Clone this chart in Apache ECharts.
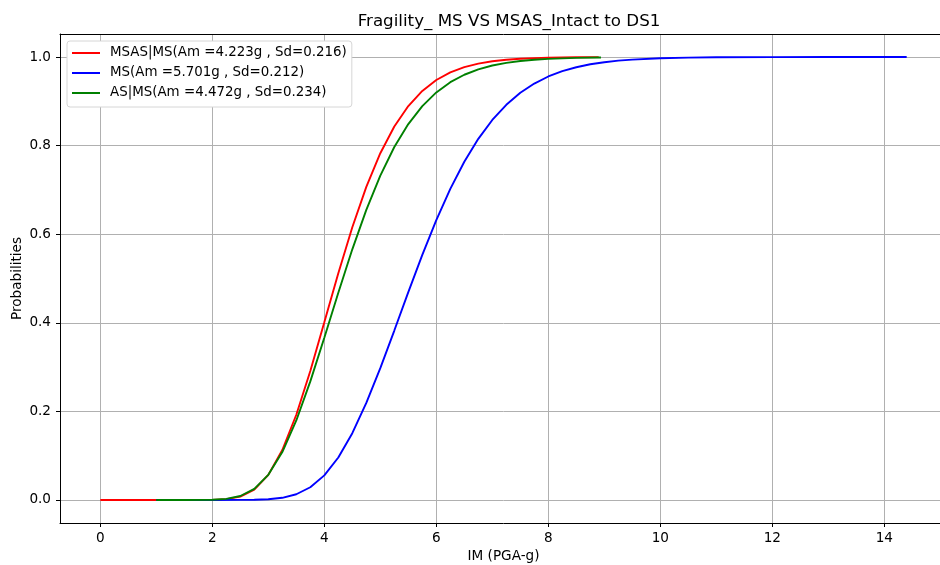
<!DOCTYPE html>
<html>
<head>
<meta charset="utf-8">
<script src="https://cdn.jsdelivr.net/npm/echarts@6/dist/echarts.min.js"></script>
<style>
html,body{margin:0;padding:0;background:#fff;overflow:hidden;}
#chart{width:940px;height:565px;}
</style>
</head>
<body>
<div id="chart"></div>
<script>
// ---- data ----
const titleText = "Fragility_ MS VS MSAS_Intact to DS1";
const xName = "IM (PGA-g)";
const yName = "Probabilities";

const nameRed = "MSAS|MS(Am =4.223g , Sd=0.216)";
const nameBlue = "MS(Am =5.701g , Sd=0.212)";
const nameGreen = "AS|MS(Am =4.472g , Sd=0.234)";

const xRed = [0, 0.5, 1, 1.5, 1.75, 2, 2.25, 2.5, 2.75, 3, 3.25, 3.5, 3.75, 4, 4.25, 4.5, 4.75, 5, 5.25, 5.5, 5.75, 6, 6.25, 6.5, 6.75, 7, 7.25, 7.5, 7.75, 8, 8.5, 8.9];
const yRed = [0, 0, 0, 0, 0, 0.0003, 0.0018, 0.0076, 0.0235, 0.0567, 0.1128, 0.1924, 0.2913, 0.401, 0.5118, 0.6158, 0.7069, 0.7829, 0.8433, 0.8894, 0.9235, 0.9481, 0.9652, 0.9771, 0.985, 0.9904, 0.9938, 0.9961, 0.9975, 0.9985, 0.9994, 0.9997];

const xBlue = [1, 1.5, 2, 2.5, 2.75, 3, 3.25, 3.5, 3.75, 4, 4.25, 4.5, 4.75, 5, 5.25, 5.5, 5.75, 6, 6.25, 6.5, 6.75, 7, 7.25, 7.5, 7.75, 8, 8.25, 8.5, 8.75, 9, 9.25, 9.5, 10, 10.5, 11, 12, 13, 14, 14.4];
const yBlue = [0, 0, 0, 0.0001, 0.0004, 0.0015, 0.0049, 0.0129, 0.0287, 0.0555, 0.0959, 0.1508, 0.219, 0.2976, 0.3825, 0.4691, 0.5534, 0.632, 0.7024, 0.7637, 0.8153, 0.8579, 0.8922, 0.9192, 0.9401, 0.9561, 0.9681, 0.977, 0.9836, 0.9883, 0.9918, 0.9942, 0.9972, 0.9987, 0.9994, 0.9999, 1, 1, 1];

const xGreen = [1, 1.5, 2, 2.25, 2.5, 2.75, 3, 3.25, 3.5, 3.75, 4, 4.25, 4.5, 4.75, 5, 5.25, 5.5, 5.75, 6, 6.25, 6.5, 6.75, 7, 7.25, 7.5, 7.75, 8, 8.5, 8.94];
const yGreen = [0, 0, 0.0004, 0.0024, 0.0089, 0.0252, 0.0568, 0.1081, 0.1795, 0.2677, 0.3663, 0.4679, 0.5659, 0.6549, 0.7323, 0.7968, 0.8486, 0.8892, 0.9201, 0.9432, 0.96, 0.9721, 0.9808, 0.9869, 0.9911, 0.9939, 0.9959, 0.9982, 0.9991];

const xMin = -0.72, xMax = 15.12;
const yMin = -0.052, yMax = 1.052;

// ---- chart ----
function pairs(xs, ys) { return xs.map((x, i) => [x, ys[i]]); }

const FONT = "DejaVu Sans";
const LBL = 13.6;
const chart = echarts.init(document.getElementById('chart'), null, {renderer: 'canvas', width: 1000, height: 565});

function lineSeries(name, xs, ys, color) {
  return {
    name: name,
    type: 'line',
    data: pairs(xs, ys),
    showSymbol: false,
    symbol: 'none',
    smooth: false,
    lineStyle: {color: color, width: 1.9},
    itemStyle: {color: color},
    emphasis: {disabled: true}
  };
}

chart.setOption({
  animation: false,
  backgroundColor: '#ffffff',
  textStyle: {fontFamily: FONT},
  title: {
    text: titleText,
    left: 504,
    textAlign: 'center',
    top: 8,
    textStyle: {fontFamily: FONT, fontSize: 16.7, fontWeight: 'normal', color: '#000'}
  },
  legend: {
    orient: 'vertical',
    left: 67,
    top: 41,
    z: 10,
    icon: 'rect',
    itemWidth: 28,
    itemHeight: 2,
    itemGap: 4,
    padding: [4, 5, 6, 5],
    backgroundColor: '#ffffff',
    borderColor: '#d6d6d6',
    borderWidth: 1,
    borderRadius: 3,
    textStyle: {fontFamily: FONT, fontSize: 13.4, color: '#000', lineHeight: 16, padding: [0, 0, 0, 5]},
    data: [nameRed, nameBlue, nameGreen]
  },
  grid: {
    left: 60, width: 887, top: 34, bottom: 42,
    outerBoundsMode: 'none',
    containLabel: false,
    show: false
  },
  xAxis: [{
    type: 'value',
    min: xMin, max: xMax,
    splitNumber: 8,
    name: xName,
    nameLocation: 'middle',
    nameGap: 26,
    nameMoveOverlap: false,
    nameTextStyle: {fontFamily: FONT, fontSize: LBL, color: '#000'},
    axisLine: {show: true, onZero: false, lineStyle: {color: '#000', width: 1}},
    axisTick: {show: true, inside: false, length: 4, lineStyle: {color: '#000'}},
    axisLabel: {showMinLabel: false, showMaxLabel: false, margin: 8, fontFamily: FONT, fontSize: LBL, color: '#000',
      formatter: v => String(Math.round(v))},
    splitLine: {show: true, showMinLine: false, showMaxLine: false, lineStyle: {color: '#b0b0b0', width: 1}}
  }, {
    type: 'value',
    position: 'top',
    min: xMin, max: xMax,
    axisLine: {show: true, onZero: false, lineStyle: {color: '#000', width: 1}},
    axisTick: {show: false},
    axisLabel: {show: false},
    splitLine: {show: false}
  }],
  yAxis: {
    type: 'value',
    min: yMin, max: yMax,
    splitNumber: 5,
    name: yName,
    nameLocation: 'middle',
    nameGap: 36,
    nameMoveOverlap: false,
    nameTextStyle: {fontFamily: FONT, fontSize: LBL, color: '#000'},
    axisLine: {show: true, onZero: false, lineStyle: {color: '#000', width: 1}},
    axisTick: {show: true, inside: false, length: 4, lineStyle: {color: '#000'}},
    axisLabel: {showMinLabel: false, showMaxLabel: false, margin: 9, fontFamily: FONT, fontSize: LBL, color: '#000',
      formatter: v => v.toFixed(1)},
    splitLine: {show: true, showMinLine: false, showMaxLine: false, lineStyle: {color: '#b0b0b0', width: 1}}
  },
  series: [
    lineSeries(nameRed, xRed, yRed, '#ff0000'),
    lineSeries(nameBlue, xBlue, yBlue, '#0000ff'),
    lineSeries(nameGreen, xGreen, yGreen, '#008000')
  ]
});
</script>
</body>
</html>
